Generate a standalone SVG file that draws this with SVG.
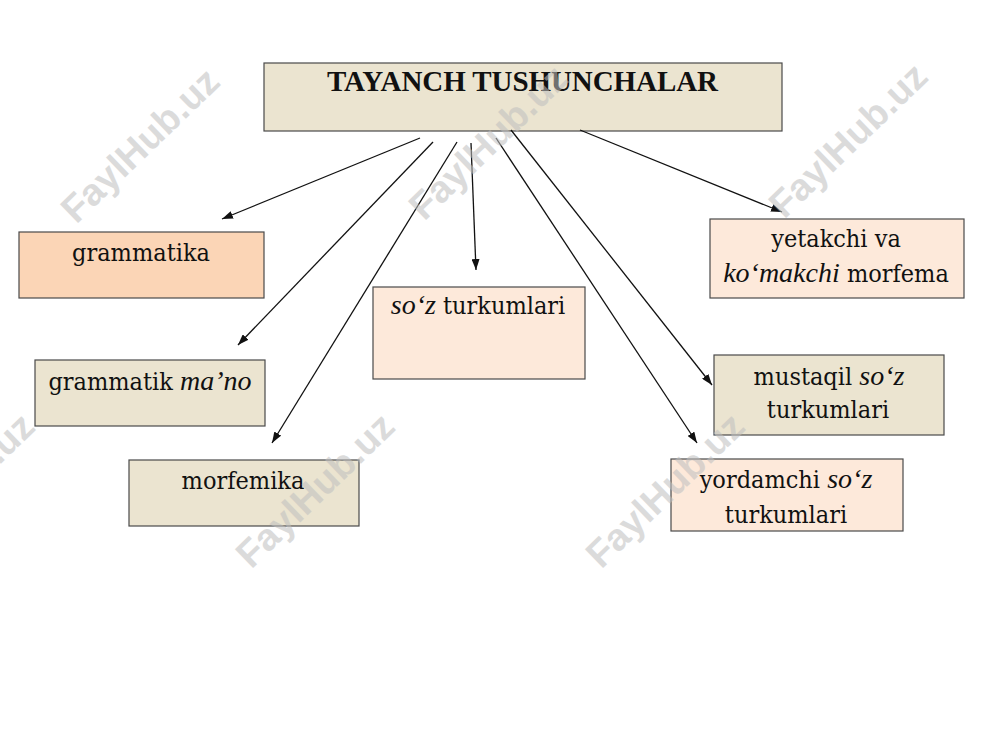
<svg xmlns="http://www.w3.org/2000/svg" width="1000" height="750" viewBox="0 0 1000 750">
<style>
.box{stroke:#4a4a4a;stroke-width:1.2}
.beige{fill:#ebe4d0}
.peach{fill:#fbd5b6}
.light{fill:#fde9da}
.t{font-family:"DejaVu Serif","Liberation Serif",serif;font-stretch:condensed;font-size:25px;fill:#111;text-anchor:middle}
.i{font-family:"Liberation Serif",serif;font-style:italic;font-size:28px;font-stretch:normal}
.title{font-family:"Liberation Serif",serif;font-weight:bold;font-size:29px;fill:#111}
.conn line{stroke:#111;stroke-width:1.3;marker-end:url(#ah)}
.wm{font-family:"Liberation Sans",Arial,sans-serif;font-weight:bold;font-size:38px;fill:#bfbfbf;opacity:0.55;text-anchor:middle}
</style>
<defs>
<marker id="ah" markerUnits="userSpaceOnUse" markerWidth="11" markerHeight="8" refX="11" refY="4" orient="auto">
<path d="M0,0 L11,4 L0,8 z" fill="#111"/>
</marker>
</defs>
<rect width="1000" height="750" fill="#fff"/>
<g id="title">
<rect class="box beige" x="264" y="63" width="518" height="68"/>
<text class="title" x="327" y="91" textLength="391" lengthAdjust="spacing">TAYANCH TUSHUNCHALAR</text>
</g>
<g id="grammatika">
<rect class="box peach" x="19" y="232" width="245" height="66"/>
<text class="t" x="141" y="261">grammatika</text>
</g>
<g id="grammatik-mano">
<rect class="box beige" x="35" y="360" width="230" height="66"/>
<text class="t" x="150" y="390">grammatik <tspan class="i">ma’no</tspan></text>
</g>
<g id="morfemika">
<rect class="box beige" x="129" y="460" width="230" height="66"/>
<text class="t" x="243" y="489">morfemika</text>
</g>
<g id="soz-turkumlari">
<rect class="box light" x="373" y="287" width="212" height="92"/>
<text class="t" x="478" y="314"><tspan class="i">so‘z</tspan> turkumlari</text>
</g>
<g id="yetakchi">
<rect class="box light" x="710" y="219" width="254" height="79"/>
<text class="t" x="836" y="247">yetakchi va</text>
<text class="t" x="836" y="282"><tspan class="i">ko‘makchi</tspan> morfema</text>
</g>
<g id="mustaqil">
<rect class="box beige" x="714" y="355" width="230" height="80"/>
<text class="t" x="829" y="385">mustaqil <tspan class="i">so‘z</tspan></text>
<text class="t" x="828" y="418">turkumlari</text>
</g>
<g id="yordamchi">
<rect class="box light" x="671" y="459" width="232" height="72"/>
<text class="t" x="786" y="488">yordamchi <tspan class="i">so‘z</tspan></text>
<text class="t" x="786" y="523">turkumlari</text>
</g>
<g id="connectors" class="conn">
<line x1="420" y1="138" x2="222" y2="219"/>
<line x1="433" y1="142" x2="238" y2="345"/>
<line x1="457" y1="142" x2="272" y2="443"/>
<line x1="471" y1="143" x2="476" y2="270"/>
<line x1="496" y1="138" x2="697" y2="443"/>
<line x1="511" y1="130" x2="712" y2="385"/>
<line x1="580" y1="130" x2="782" y2="212"/>
</g>
<g id="watermarks">
<text class="wm" transform="translate(140,145) rotate(-44)" y="13">FaylHub.uz</text>
<text class="wm" transform="translate(488,142) rotate(-44)" y="13">FaylHub.uz</text>
<text class="wm" transform="translate(848,140) rotate(-44)" y="13">FaylHub.uz</text>
<text class="wm" transform="translate(-45,490) rotate(-44)" y="13">FaylHub.uz</text>
<text class="wm" transform="translate(315,490) rotate(-44)" y="13">FaylHub.uz</text>
<text class="wm" transform="translate(665,490) rotate(-44)" y="13">FaylHub.uz</text>
</g>
</svg>
